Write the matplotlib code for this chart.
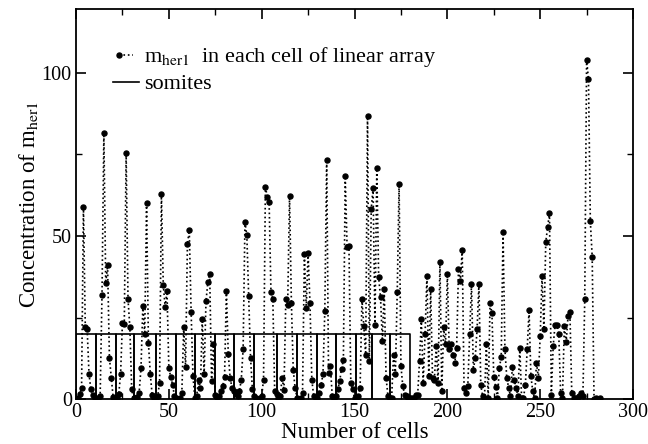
import matplotlib
matplotlib.use("Agg")
import matplotlib.pyplot as plt
from matplotlib.lines import Line2D
from matplotlib.legend_handler import HandlerLine2D
import numpy as np

plt.rcParams['font.family'] = ['Liberation Serif', 'DejaVu Serif']
plt.rcParams['mathtext.fontset'] = 'stix'

# concentration of m_her1 in each cell
conc = [
    0.0, 0.5, 1.5, 3.5, 59.0, 22.0, 21.6, 7.8, 3.0, 1.4,
    0.5, 0.0, 0.3, 1.0, 32.0, 81.4, 35.5, 41.0, 12.7, 6.6,
    0.6, 0.2, 0.5, 1.5, 7.6, 23.5, 23.2, 75.3, 30.7, 22.0,
    3.0, 0.4, 0.3, 0.8, 2.0, 9.6, 28.6, 19.9, 60.0, 17.3,
    7.8, 1.4, 0.5, 0.3, 1.0, 5.0, 63.0, 35.0, 28.3, 33.0,
    9.6, 6.8, 4.5, 1.0, 0.3, 0.0, 0.5, 2.0, 22.0, 10.0,
    47.6, 51.7, 26.6, 7.0, 0.4, 1.0, 6.0, 3.5, 24.5, 7.6,
    30.0, 35.8, 38.4, 5.5, 16.8, 1.4, 0.6, 1.0, 2.5, 4.0,
    6.8, 33.2, 14.0, 6.6, 3.5, 2.5, 1.5, 1.0, 2.5, 6.0,
    15.3, 54.3, 50.2, 31.7, 12.7, 3.0, 1.0, 0.5, 0.2, 0.3,
    1.0, 6.0, 65.0, 62.0, 60.4, 32.7, 30.7, 2.5, 1.5, 0.5,
    1.0, 6.6, 2.7, 30.7, 29.0, 62.2, 29.6, 9.0, 3.5, 0.5,
    0.2, 0.5, 2.0, 44.5, 28.0, 44.7, 29.6, 6.0, 1.0, 0.3,
    0.5, 2.0, 4.5, 7.6, 27.0, 73.4, 8.1, 10.2, 1.0, 0.5,
    1.0, 3.0, 5.5, 9.4, 12.0, 68.3, 46.6, 47.0, 5.0, 3.0,
    0.3, 0.2, 1.0, 3.5, 30.7, 22.5, 13.7, 86.6, 11.7, 58.4,
    64.6, 22.6, 70.7, 37.3, 31.2, 17.8, 33.7, 6.6, 1.0, 0.3,
    0.5, 13.7, 7.6, 32.7, 66.0, 10.2, 4.0, 1.4, 1.0, 0.3,
    0.5, 0.3, 0.5, 1.2, 1.2, 11.7, 24.5, 5.0, 20.0, 37.8,
    7.0, 33.7, 6.6, 6.0, 16.3, 5.0, 42.0, 2.5, 22.0, 16.8,
    38.4, 15.3, 16.8, 13.7, 11.2, 15.8, 39.9, 36.3, 45.7, 3.5,
    2.0, 4.0, 19.9, 35.3, 9.0, 12.7, 21.4, 35.3, 4.3, 1.0,
    0.3, 16.8, 0.3, 29.6, 26.4, 6.9, 3.7, 0.5, 9.6, 12.9,
    51.2, 15.3, 6.6, 3.5, 1.0, 9.8, 6.0, 3.5, 1.0, 15.8,
    0.3, 0.5, 4.3, 15.3, 27.3, 7.0, 2.5, 0.3, 11.2, 6.6,
    19.4, 37.8, 21.4, 48.1, 52.7, 57.0, 1.4, 16.3, 22.8, 22.8,
    20.0, 2.0, 0.3, 22.5, 17.5, 25.5, 26.8, 2.0, 0.3, 0.3,
    0.5, 1.0, 2.0, 1.0, 30.7, 104.0, 98.0, 54.6, 43.7, 0.2,
    0.3, 0.2, 0.3,
]
cells = np.arange(len(conc))

# somite boundaries (cell positions) and their height
somite_edges = [0, 10.5, 21.5, 31.5, 43, 54, 64, 75, 85, 96, 108,
                119, 130, 140, 151, 159.5, 169, 180]
somite_height = 20


class LeftMarker(HandlerLine2D):
    # legend sample with the dot only at the left end
    def create_artists(self, *args, **kwargs):
        arts = super().create_artists(*args, **kwargs)
        for a in arts:
            if a.get_marker() not in (None, 'None', ''):
                a.set_markevery([0])
        return arts


fig = plt.figure(figsize=(6.48, 4.44), dpi=100)
ax = fig.add_axes([0.1173, 0.1007, 0.8596, 0.8784])

ax.plot(cells, conc, color='black', linestyle=':', linewidth=1.2,
        marker='o', markersize=3.6)

for i in range(len(somite_edges) - 1):
    a, b = somite_edges[i], somite_edges[i + 1]
    ax.plot([a, a, b, b], [0, somite_height, somite_height, 0], color='black',
            linewidth=1.2)

ax.set_xlim(0, 300)
ax.set_ylim(0, 119.4)
ax.set_xticks(np.arange(0, 301, 50))
ax.set_xticks(np.arange(0, 301, 25), minor=True)
ax.set_yticks([0, 50, 100])
ax.set_yticks(np.arange(0, 119, 25), minor=True)
ax.tick_params(which='both', direction='in', top=True, right=True, labelsize=14.5)
ax.tick_params(which='major', length=7, width=1.2, pad=3)
ax.tick_params(axis='y', which='major', pad=3)
ax.tick_params(which='minor', length=4, width=1)
for s in ax.spines.values():
    s.set_linewidth(1.3)

ax.set_xlabel('Number of cells', fontsize=16.5, labelpad=0)
ax.set_ylabel(r'Concentration of m$_{\rm her1}$', fontsize=16.5, labelpad=1)

h_conc = Line2D([], [], color='black', linestyle=':', linewidth=1.2,
                marker='o', markersize=3.6)
h_som = Line2D([], [], color='black', linewidth=1.2)
ax.legend([h_conc, h_som],
          [r'm$_{\rm her1}$  in each cell of linear array', 'somites'],
          handler_map={h_conc: LeftMarker(numpoints=2)},
          loc='upper left', bbox_to_anchor=(0.05, 0.93), frameon=False,
          fontsize=16, handlelength=1.2, handletextpad=0.2,
          labelspacing=0.2, borderaxespad=0)

fig.savefig('out.png', dpi=100)
